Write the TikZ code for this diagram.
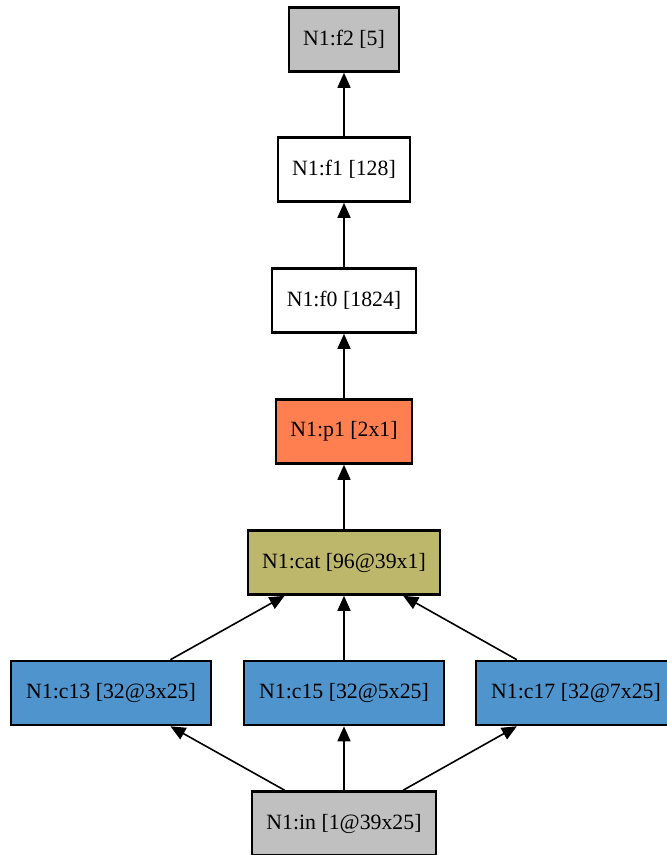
\documentclass[tikz,border=0pt]{standalone}
\usepackage{fontspec}
\setmainfont{Liberation Serif}
\usetikzlibrary{arrows.meta}
\definecolor{gry}{RGB}{192,192,192}
\definecolor{coral}{RGB}{255,127,80}
\definecolor{khaki}{RGB}{189,183,107}
\definecolor{steel}{RGB}{79,148,205}
\begin{document}
\begin{tikzpicture}[x=1pt,y=-1pt,
  box/.style={draw=black,line width=2.6pt,minimum height=64pt,inner sep=0pt,font=\fontsize{21.8}{24}\selectfont},
  edge/.style={line width=1.6pt,-{Triangle[length=15pt,width=13pt]}}]
\useasboundingbox (0,0) rectangle (667,855);
\node[box,fill=gry,minimum width=110pt] (f2) at (344,39.5) {N1:f2 [5]};
\node[box,fill=white,minimum width=132pt] (f1) at (344,169.5) {N1:f1 [128]};
\node[box,fill=white,minimum width=144pt] (f0) at (344,300.5) {N1:f0 [1824]};
\node[box,fill=coral,minimum width=136pt] (p1) at (344,431.5) {N1:p1 [2x1]};
\node[box,fill=khaki,minimum width=192pt] (cat) at (344,562.5) {N1:cat [96@39x1]};
\node[box,fill=steel,minimum width=200pt] (c13) at (111,693) {N1:c13 [32@3x25]};
\node[box,fill=steel,minimum width=200pt] (c15) at (344,693) {N1:c15 [32@5x25]};
\node[box,fill=steel,minimum width=200pt] (c17) at (576,693) {N1:c17 [32@7x25]};
\node[box,fill=gry,minimum width=184pt] (in) at (344,823.5) {N1:in [1@39x25]};
\draw[edge] (in) -- (c13);
\draw[edge] (in) -- (c15);
\draw[edge] (in) -- (c17);
\draw[edge] (c13) -- (cat);
\draw[edge] (c15) -- (cat);
\draw[edge] (c17) -- (cat);
\draw[edge] (cat) -- (p1);
\draw[edge] (p1) -- (f0);
\draw[edge] (f0) -- (f1);
\draw[edge] (f1) -- (f2);
\end{tikzpicture}
\end{document}
